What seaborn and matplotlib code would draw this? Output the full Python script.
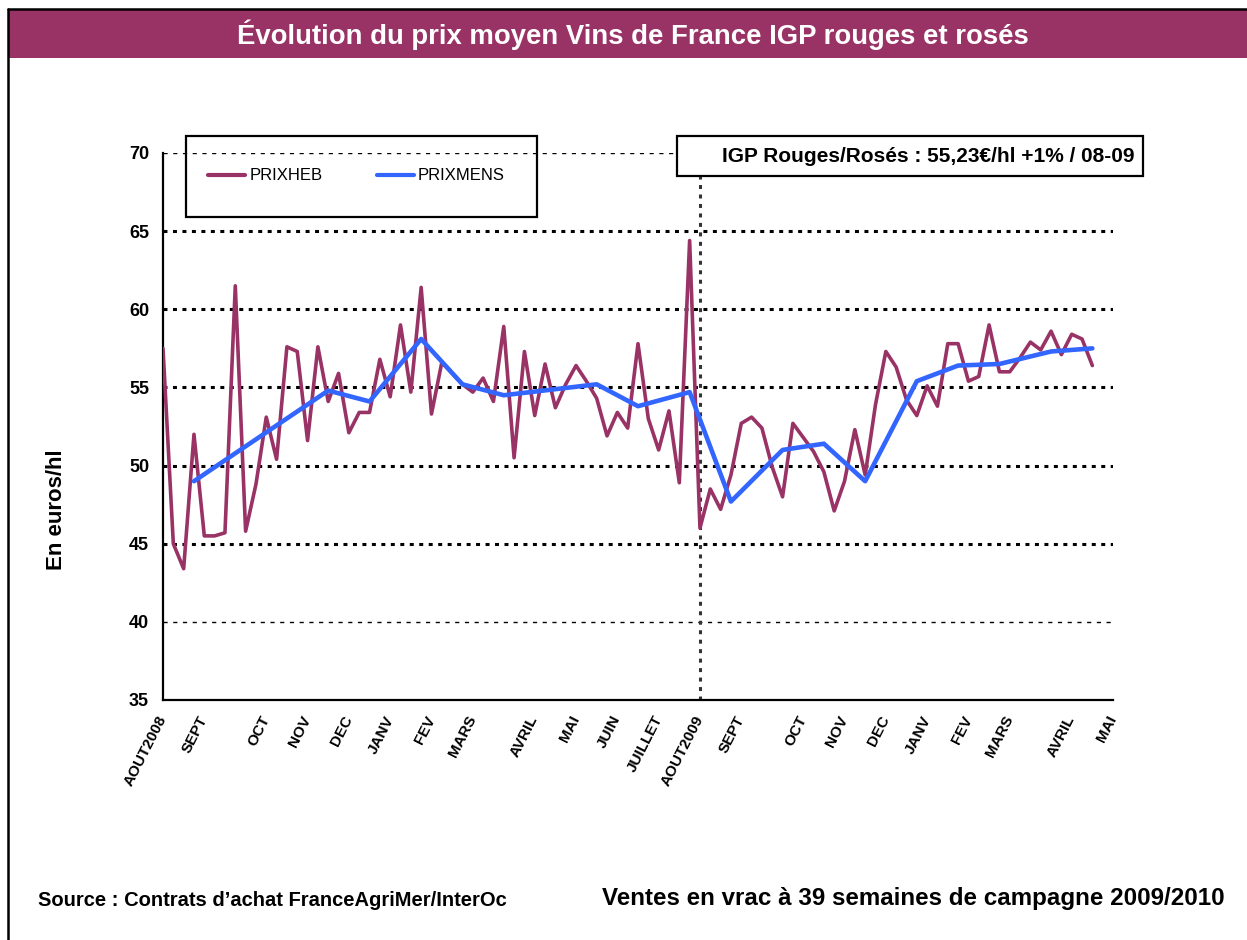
import numpy as np
import pandas as pd
import matplotlib.pyplot as plt
import seaborn as sns
from matplotlib.patches import Rectangle
from matplotlib.lines import Line2D

# weekly price (euros/hl), week 0 = AOUT2008
prixheb = [57.5, 45.0, 43.4, 52.0, 45.5, 45.5, 45.7, 61.5, 45.8, 48.8,
           53.1, 50.4, 57.6, 57.3, 51.6, 57.6, 54.1, 55.9, 52.1, 53.4,
           53.4, 56.8, 54.4, 59.0, 54.7, 61.4, 53.3, 56.6, 55.9, 55.2,
           54.7, 55.6, 54.1, 58.9, 50.5, 57.3, 53.2, 56.5, 53.7, 55.2,
           56.4, 55.4, 54.3, 51.9, 53.4, 52.4, 57.8, 53.0, 51.0, 53.5,
           48.9, 64.4, 46.0, 48.5, 47.2, 49.4, 52.7, 53.1, 52.4, 49.9,
           48.0, 52.7, 51.8, 50.9, 49.6, 47.1, 49.0, 52.3, 49.4, 53.9,
           57.3, 56.3, 54.2, 53.2, 55.1, 53.8, 57.8, 57.8, 55.4, 55.7,
           59.0, 56.0, 56.0, 56.9, 57.9, 57.4, 58.6, 57.1, 58.4, 58.1,
           56.4]

# monthly mean price and the week where it is plotted
mens_semaine = [3, 16, 20, 25, 29, 33, 42, 46, 51, 55, 60, 64, 68, 73, 77, 81, 86, 90]
prixmens = [49.0, 54.8, 54.1, 58.1, 55.2, 54.5, 55.2, 53.8, 54.7, 47.7,
            51.0, 51.4, 49.0, 55.4, 56.4, 56.5, 57.3, 57.5]

mois = ['AOUT2008', 'SEPT', 'OCT', 'NOV', 'DEC', 'JANV', 'FEV', 'MARS', 'AVRIL', 'MAI',
        'JUIN', 'JUILLET', 'AOUT2009', 'SEPT', 'OCT', 'NOV', 'DEC', 'JANV', 'FEV', 'MARS',
        'AVRIL', 'MAI']
mois_pos = [0, 4, 10, 14, 18, 22, 26, 30, 36, 40, 44, 48, 52, 56, 62, 66, 70, 74, 78, 82, 88, 92]

df = pd.concat([
    pd.DataFrame({'semaine': range(len(prixheb)), 'prix': prixheb, 'serie': 'PRIXHEB'}),
    pd.DataFrame({'semaine': mens_semaine, 'prix': prixmens, 'serie': 'PRIXMENS'}),
])

sns.set_style('white')
plt.rcParams['font.family'] = ['Liberation Sans', 'DejaVu Sans']
plt.rcParams['text.color'] = 'black'
plt.rcParams['xtick.color'] = 'black'
plt.rcParams['ytick.color'] = 'black'

W, H = 1247, 940
fig = plt.figure(figsize=(W / 100, H / 100), dpi=100)
ax = fig.add_axes([163 / W, 1 - 700 / H, 950 / W, 547 / H])

purple = '#993366'
blue = '#3366FF'

# grid lines
for v in [40, 70]:
    ax.axhline(v, color='black', lw=1.0, ls=(0, (3, 4)), zorder=1)
for v in [45, 50, 55, 60, 65]:
    ax.axhline(v, color='black', lw=2.2, ls=(0, (1.3, 1.8)), zorder=1)
ax.axvline(52, color='#333333', lw=2.2, ls=(0, (1.3, 1.8)), zorder=1)

sns.lineplot(data=df, x='semaine', y='prix', hue='serie', palette=[purple, blue],
             estimator=None, sort=False, ax=ax, legend=False, zorder=3)
ax.lines[-2].set_linewidth(2.6)
ax.lines[-1].set_linewidth(3.3)

ax.set_xlim(0, 92)
ax.set_ylim(35, 70)
ax.set_yticks(range(35, 71, 5))
ax.set_xticks(mois_pos)
ax.set_xticklabels(mois, rotation=63, ha='right', va='center', rotation_mode='anchor',
                   fontweight='bold', fontsize=11)
ax.set_xticks(range(0, 93), minor=True)
ax.tick_params(axis='x', which='both', direction='inout', length=10, width=1.5, pad=7)
ax.tick_params(axis='y', direction='inout', length=12, width=1.5, labelsize=13, pad=4)
for lab in ax.get_yticklabels():
    lab.set_fontweight('bold')
ax.set_xlabel('')
ax.set_ylabel('')
for s in ['top', 'right']:
    ax.spines[s].set_visible(False)
for s in ['left', 'bottom']:
    ax.spines[s].set_color('black')
    ax.spines[s].set_linewidth(1.6)

fig.text(57 / W, 1 - 510 / H, 'En euros/hl', rotation=90, ha='center', va='center',
         fontsize=16, fontweight='bold')

# legend with its own frame
handles = [Line2D([], [], color=purple, lw=3), Line2D([], [], color=blue, lw=3)]
fig.legend(handles, ['PRIXHEB', 'PRIXMENS'], loc='center left',
           bbox_to_anchor=(200 / W, 1 - 176 / H), ncol=2, frameon=False,
           fontsize=12, handlelength=2.2, handletextpad=0.25, columnspacing=3.3,
           borderpad=0)
fig.patches.append(Rectangle((186 / W, 1 - 217 / H), 351 / W, 81 / H, transform=fig.transFigure,
                             facecolor='none', edgecolor='black', lw=1.6, zorder=5))

# annotation box
fig.patches.append(Rectangle((677 / W, 1 - 176 / H), 466 / W, 40 / H, transform=fig.transFigure,
                             facecolor='white', edgecolor='black', lw=1.6, zorder=4))
fig.text(1135 / W, 1 - 157 / H, 'IGP Rouges/Rosés : 55,23€/hl +1% / 08-09',
         ha='right', va='center', fontsize=15, fontweight='bold', zorder=6)

# title band and frame
fig.patches.append(Rectangle((8 / W, 1 - 58 / H), 1, 48 / H, transform=fig.transFigure,
                             facecolor=purple, edgecolor='none', zorder=0))
fig.text(633 / W, 1 - 35 / H, 'Évolution du prix moyen Vins de France IGP rouges et rosés',
         ha='center', va='center', fontsize=19.8, fontweight='bold', color='white')
fig.add_artist(Line2D([8 / W, 8 / W], [0, 1 - 9 / H], color='black', lw=1.8))
fig.add_artist(Line2D([8 / W, 1], [1 - 9 / H, 1 - 9 / H], color='black', lw=1.8))

fig.text(38 / W, 1 - 900 / H, 'Source : Contrats d\u2019achat FranceAgriMer/InterOc',
         ha='left', va='center', fontsize=14.5, fontweight='bold')
fig.text(1225 / W, 1 - 898 / H, 'Ventes en vrac à 39 semaines de campagne 2009/2010',
         ha='right', va='center', fontsize=17.4, fontweight='bold')

fig.savefig('out.png', dpi=100)
